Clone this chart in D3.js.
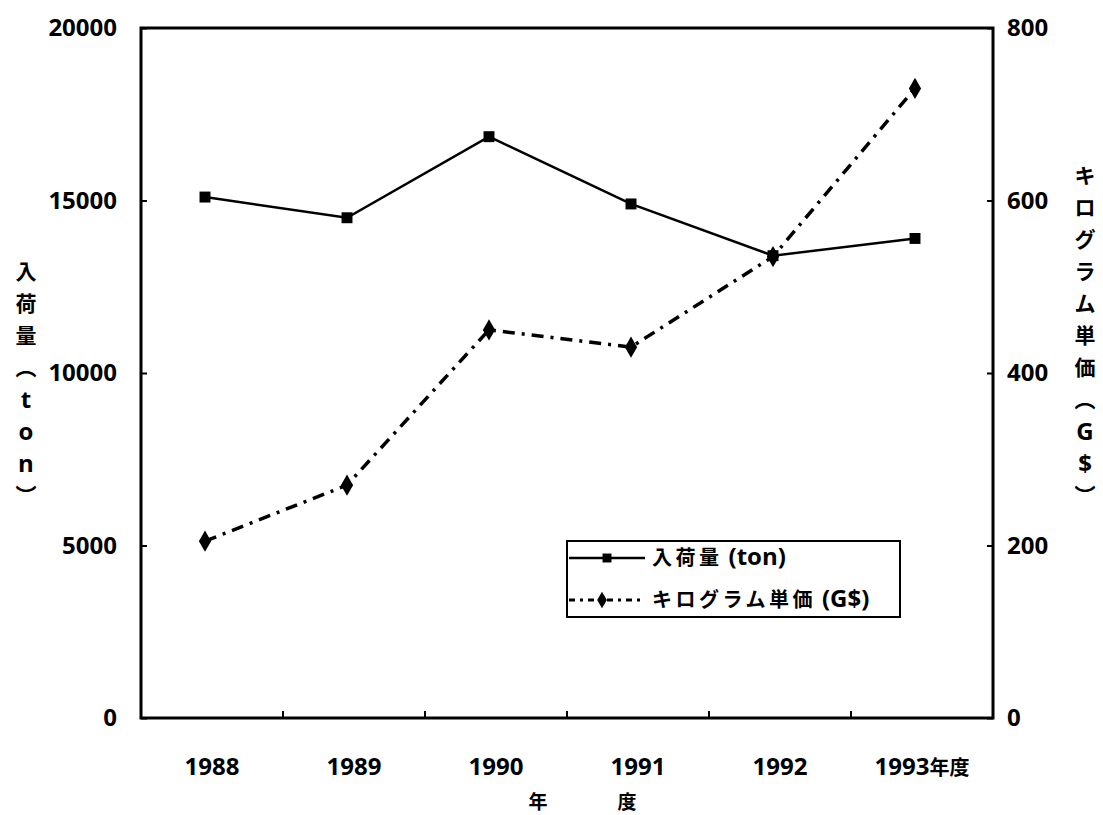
<!DOCTYPE html>
<html>
<head>
<meta charset="utf-8">
<script src="https://cdn.jsdelivr.net/npm/d3@7"></script>
<style>
  body { margin: 0; background: #fff; }
  text { fill: #000; }
  .num { font-family: "Open Sans", "Liberation Sans", sans-serif; font-weight: bold; font-size: 24px; }
  .jp { font-family: "Noto Sans CJK JP", sans-serif; font-weight: bold; }
</style>
</head>
<body>
<svg id="chart" width="1103" height="815"></svg>
<script>
// data
const years = ["1988", "1989", "1990", "1991", "1992", "1993年度"];
const tonnage = [15100, 14500, 16850, 14900, 13400, 13900];   // 入荷量 (ton)
const unitPrice = [205, 270, 450, 430, 535, 730];             // キログラム単価 (G$)
const leftTicks = [0, 5000, 10000, 15000, 20000];
const rightTicks = [0, 200, 400, 600, 800];

const leftTitle = "入荷量（ton）";
const rightTitle = "キログラム単価（G$）";
const xTitle = ["年", "度"];

const m = { left: 141, right: 993, top: 28, bottom: 718 };

const svg = d3.select("#chart");

const x = d3.scaleBand().domain(years).range([m.left, m.right]);
const yL = d3.scaleLinear().domain([0, 20000]).range([m.bottom, m.top]);
const yR = d3.scaleLinear().domain([0, 800]).range([m.bottom, m.top]);
const px = d => x(d) + x.bandwidth() / 2 - 7;   // markers sit a bit left of band centre

// frame
svg.append("rect")
  .attr("x", m.left).attr("y", m.top)
  .attr("width", m.right - m.left).attr("height", m.bottom - m.top)
  .attr("fill", "none").attr("stroke", "#000").attr("stroke-width", 3);

// left axis (ticks inward)
const gl = svg.append("g").attr("class", "num")
  .attr("transform", `translate(${m.left},0)`)
  .call(d3.axisLeft(yL).tickValues(leftTicks).tickSize(-6).tickPadding(24).tickFormat(d3.format("d")));
gl.select(".domain").remove();

// right axis (ticks inward)
const gr = svg.append("g").attr("class", "num")
  .attr("transform", `translate(${m.right},0)`)
  .call(d3.axisRight(yR).tickValues(rightTicks).tickSize(-6).tickPadding(14).tickFormat(d3.format("d")));
gr.select(".domain").remove();

[gl, gr].forEach(g => {
  g.selectAll("line").attr("stroke", "#000").attr("stroke-width", 2);
  g.selectAll("text").attr("font-size", 24).attr("font-family", null);
});

// bottom axis: labels centred in bands, ticks at band boundaries
const gx = svg.append("g").attr("class", "num")
  .attr("transform", `translate(0,${m.bottom})`)
  .call(d3.axisBottom(x).tickSize(0));
gx.select(".domain").remove();
gx.selectAll("text").attr("y", 57).attr("dy", 0).attr("font-size", 24).attr("font-family", null);
gx.selectAll("text").filter(d => d.length > 4)
  .text(null)
  .call(t => {
    t.append("tspan").text(d => d.slice(0, 4));
    t.append("tspan").attr("class", "jp").attr("font-size", 20).text(d => d.slice(4));
  });

svg.append("g").selectAll("line")
  .data(years.slice(1))
  .join("line")
  .attr("x1", d => x(d)).attr("x2", d => x(d))
  .attr("y1", m.bottom).attr("y2", m.bottom - 7)
  .attr("stroke", "#000").attr("stroke-width", 2);

// axis titles
svg.append("g").selectAll("text")
  .data(xTitle)
  .join("text")
  .attr("class", "jp")
  .attr("x", (d, i) => [538, 627][i]).attr("y", 809)
  .attr("text-anchor", "middle").attr("font-size", 19)
  .text(d => d);

function verticalTitle(str, cx, y0, step) {
  const chars = Array.from(str).map(c => c === "（" ? "︵" : c === "）" ? "︶" : c);
  svg.append("g").selectAll("text")
    .data(chars)
    .join("text")
    .attr("class", d => /[A-Za-z$]/.test(d) ? "num" : "jp")
    .attr("x", cx)
    .attr("y", (d, i) => y0 + i * step)
    .attr("dy", "0.35em")
    .attr("text-anchor", "middle")
    .attr("font-size", 21)
    .text(d => d);
}
verticalTitle(leftTitle, 26, 272, 32);
verticalTitle(rightTitle, 1085, 176, 32);

// series
const lineL = d3.line().x((d, i) => px(years[i])).y(d => yL(d));
const lineR = d3.line().x((d, i) => px(years[i])).y(d => yR(d));

svg.append("path").datum(tonnage)
  .attr("d", lineL).attr("fill", "none")
  .attr("stroke", "#000").attr("stroke-width", 2.5);

svg.append("path").datum(unitPrice)
  .attr("d", lineR).attr("fill", "none")
  .attr("stroke", "#000").attr("stroke-width", 3.5)
  .attr("stroke-dasharray", "12,7,3,7");

const sq = d3.symbol().type(d3.symbolSquare).size(120);
const dm = d3.symbol().type(d3.symbolDiamond).size(130);

svg.append("g").selectAll("path")
  .data(tonnage)
  .join("path")
  .attr("transform", (d, i) => `translate(${px(years[i])},${yL(d)})`)
  .attr("d", sq).attr("fill", "#000");

svg.append("g").selectAll("path")
  .data(unitPrice)
  .join("path")
  .attr("transform", (d, i) => `translate(${px(years[i])},${yR(d)})`)
  .attr("d", dm).attr("fill", "#000");

// legend
const lg = svg.append("g").attr("transform", "translate(567,541)");
lg.append("rect").attr("width", 333).attr("height", 76)
  .attr("fill", "#fff").attr("stroke", "#000").attr("stroke-width", 2);

const legendItems = [
  { name: "入荷量", unit: "(ton)", sym: sq, dash: null, w: 2.5, y: 17, mx: 40 },
  { name: "キログラム単価", unit: "(G$)", sym: dm, dash: "6,5,3,5", w: 3, y: 59, mx: 35 }
];
const li = lg.selectAll("g.item").data(legendItems).join("g")
  .attr("transform", d => `translate(0,${d.y})`);
li.append("line").attr("x1", 2).attr("x2", 78)
  .attr("stroke", "#000").attr("stroke-width", d => d.w)
  .attr("stroke-dasharray", d => d.dash);
li.append("path").attr("d", d => d.sym.size(80)()).attr("fill", "#000")
  .attr("transform", d => `translate(${d.mx},0)`);
const lt = li.append("text").attr("class", "jp").attr("x", 85).attr("dy", "0.35em")
  .attr("font-size", 20);
lt.append("tspan").attr("letter-spacing", 3.5).text(d => d.name);
lt.append("tspan").attr("class", "num").attr("font-size", 20).attr("dx", 6).text(d => d.unit);
</script>
</body>
</html>
